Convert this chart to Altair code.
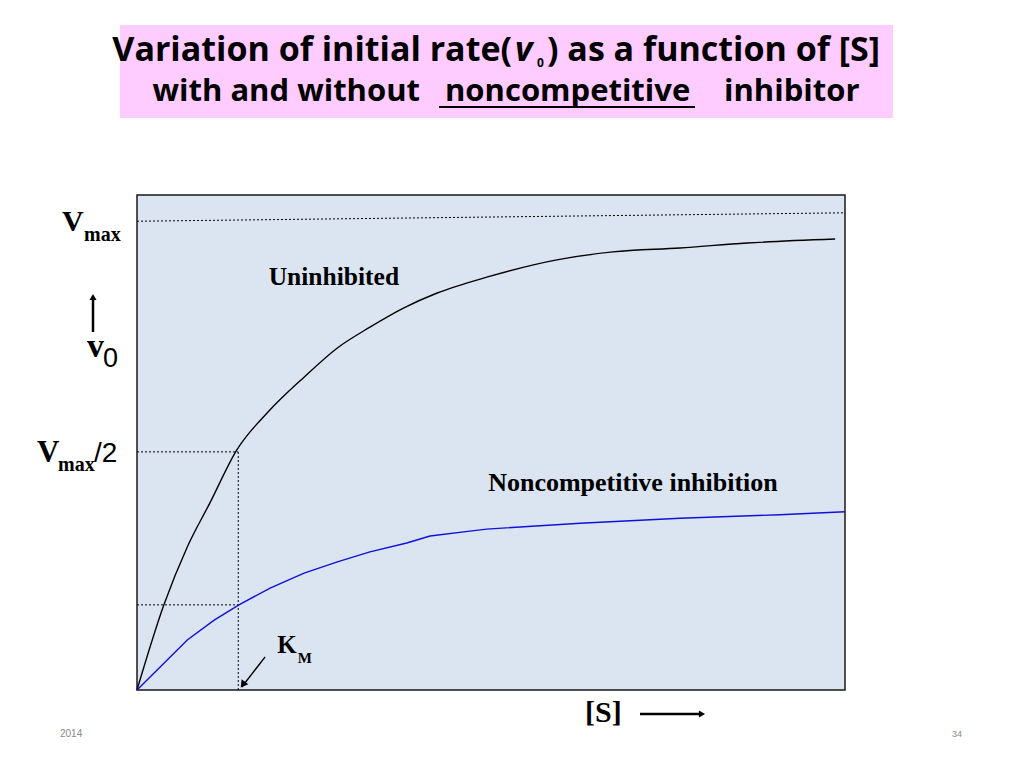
import altair as alt
import pandas as pd

# ---- data (arbitrary units: [S] 0-100, v0 0-100) ----
s_uninhibited = [0, 3.8, 7.1, 10.3, 14.1, 18.8, 23.6, 28.3, 32.9, 37.7, 42.4, 49.4, 59.3, 67.2, 76.7, 86.2, 98.6]
v_uninhibited = [0, 17.2, 28.9, 37.8, 48.5, 56.6, 63.2, 69.1, 73.3, 77.2, 80.2, 83.4, 86.9, 88.5, 89.3, 90.3, 91.1]

s_noncomp = [0, 7.1, 10.9, 14.4, 18.8, 23.6, 28.3, 32.9, 38.1, 41.4, 47.0, 49.4, 62.6, 76.7, 90.8, 100]
v_noncomp = [0, 10.1, 14.1, 17.2, 20.6, 23.6, 25.9, 27.9, 29.7, 31.1, 32.1, 32.5, 33.7, 34.7, 35.4, 36.0]

guide_x1 = [0, 0, 14.3, 0]
guide_x2 = [100, 14.3, 14.3, 14.3]
guide_y1 = [94.7, 48.1, 0, 17.2]
guide_y2 = [96.4, 48.1, 48.1, 17.2]

km_arrow_s = [18.1, 14.8]
km_arrow_v = [6.7, 0.6]

SERIF = "Liberation Serif"
SANS = "Liberation Sans"
TITLE_FONT = "Open Sans"
TS1 = 34
TS2 = 31

xs = alt.Scale(domain=[0, 100], nice=False, zero=False)
ys = alt.Scale(domain=[0, 100], nice=False, zero=False)

one = alt.Data(values=[{"k": 1}])


def txt(text, x, y, size, font, weight="normal", style="normal", align="left", color="black"):
    return alt.Chart(one).mark_text(
        text=text, align=align, baseline="alphabetic", fontSize=size, font=font,
        fontWeight=weight, fontStyle=style, color=color
    ).encode(x=alt.value(x), y=alt.value(y))


def dtxt(text, s, v, size, font, weight="bold", align="left"):
    d = pd.DataFrame({"s": [s], "v": [v]})
    return alt.Chart(d).mark_text(
        text=text, align=align, baseline="alphabetic", fontSize=size, font=font, fontWeight=weight, color="black"
    ).encode(x=alt.X("s:Q", scale=xs, axis=None), y=alt.Y("v:Q", scale=ys, axis=None))


# title box
title_rect = alt.Chart(one).mark_rect(color="#ffccff").encode(
    x=alt.value(-17), x2=alt.value(756), y=alt.value(-170), y2=alt.value(-77)
)
t1a = txt("Variation of initial rate(", 375, -134, TS1, TITLE_FONT, weight="bold", align="right")
t1v = txt("v", 378, -134, TS1, TITLE_FONT, weight="bold", style="italic")
t1z = txt("0", 400, -128, 12, TITLE_FONT, weight="bold")
t1b = txt(") as a function of [S]", 410, -134, TS1, TITLE_FONT, weight="bold")
t2a = txt("with and without", 283, -94, TS2, TITLE_FONT, weight="bold", align="right")
t2b = txt("noncompetitive", 308, -94, TS2, TITLE_FONT, weight="bold")
t2c = txt("inhibitor", 587, -94, TS2, TITLE_FONT, weight="bold")
underline = alt.Chart(one).mark_rule(color="black", strokeWidth=2).encode(
    x=alt.value(302), x2=alt.value(558), y=alt.value(-88)
)

# curves
unin = alt.Chart(pd.DataFrame({"s": s_uninhibited, "v": v_uninhibited})).mark_line(
    color="black", strokeWidth=1.4, interpolate="monotone"
).encode(x=alt.X("s:Q", scale=xs, axis=None), y=alt.Y("v:Q", scale=ys, axis=None))

nonc = alt.Chart(pd.DataFrame({"s": s_noncomp, "v": v_noncomp})).mark_line(
    color="#1010d8", strokeWidth=1.4, interpolate="linear"
).encode(x=alt.X("s:Q", scale=xs, axis=None), y=alt.Y("v:Q", scale=ys, axis=None))

guides = alt.Chart(pd.DataFrame({"x1": guide_x1, "x2": guide_x2, "y1": guide_y1, "y2": guide_y2})).mark_rule(
    color="black", strokeWidth=1, strokeDash=[2, 2]
).encode(
    x=alt.X("x1:Q", scale=xs, axis=None), x2="x2:Q",
    y=alt.Y("y1:Q", scale=ys, axis=None), y2="y2:Q"
)

km_line = alt.Chart(pd.DataFrame({"x1": [km_arrow_s[0]], "x2": [km_arrow_s[1]],
                                  "y1": [km_arrow_v[0]], "y2": [km_arrow_v[1]]})).mark_rule(
    color="black", strokeWidth=1.4
).encode(x=alt.X("x1:Q", scale=xs, axis=None), x2="x2:Q",
         y=alt.Y("y1:Q", scale=ys, axis=None), y2="y2:Q")
km_head = alt.Chart(pd.DataFrame({"s": [14.95], "v": [1.1]})).mark_point(
    shape="triangle-up", filled=True, color="black", size=70, angle=216.6, opacity=1
).encode(x=alt.X("s:Q", scale=xs, axis=None), y=alt.Y("v:Q", scale=ys, axis=None))

lab_un = dtxt("Uninhibited", 18.6, 81.8, 25.5, SERIF)
lab_nc = dtxt("Noncompetitive inhibition", 49.6, 40.2, 26, SERIF)
lab_k = dtxt("K", 19.8, 7.5, 25, SERIF)
lab_m = dtxt("M", 22.7, 5.4, 15, SERIF)

# left axis labels
vmax_V = txt("V", -75, 36, 30, SERIF, weight="bold")
vmax_m = txt("max", -53, 46, 20, SERIF, weight="bold")
up_line = alt.Chart(one).mark_rule(color="black", strokeWidth=2.5).encode(
    x=alt.value(-44), y=alt.value(104), y2=alt.value(137)
)
up_head = alt.Chart(one).mark_point(shape="triangle-up", filled=True, color="black", size=50, opacity=1).encode(
    x=alt.value(-44), y=alt.value(102)
)
v0_v = txt("v", -50, 162, 34, SERIF, weight="bold")
v0_0 = txt("0", -34, 172, 27, SANS)
half_V = txt("V", -100, 267, 31, SERIF, weight="bold")
half_m = txt("max", -79, 276, 20, SERIF, weight="bold")
half_2 = txt("/2", -43, 267, 28, SANS)

# x label
s_lab = txt("[S]", 448, 527, 30, SERIF, weight="bold")
s_line = alt.Chart(one).mark_rule(color="black", strokeWidth=2.5).encode(
    x=alt.value(503), x2=alt.value(563), y=alt.value(519)
)
s_head = alt.Chart(one).mark_point(shape="triangle-right", filled=True, color="black", size=50, opacity=1).encode(
    x=alt.value(565), y=alt.value(519)
)

# footer
f_year = txt("2014", -77, 542, 10, SANS, color="#888888")
f_page = txt("34", 815, 542, 9, SANS, color="#888888")

chart = alt.layer(
    title_rect, t1a, t1v, t1z, t1b, t2a, t2b, t2c, underline,
    guides, unin, nonc, km_line, km_head,
    lab_un, lab_nc, lab_k, lab_m,
    vmax_V, vmax_m, up_line, up_head, v0_v, v0_0, half_V, half_m, half_2,
    s_lab, s_line, s_head, f_year, f_page
).properties(
    width=708, height=495,
    padding={"left": 129, "top": 187, "right": 171, "bottom": 70},
    autosize=alt.AutoSizeParams(type="none"),
    background="white"
).configure_view(
    fill="#dbe5f1", stroke="#1a1a1a", strokeWidth=1.5
)

chart.save("out.html", embed_options={"renderer": "svg", "actions": False})
